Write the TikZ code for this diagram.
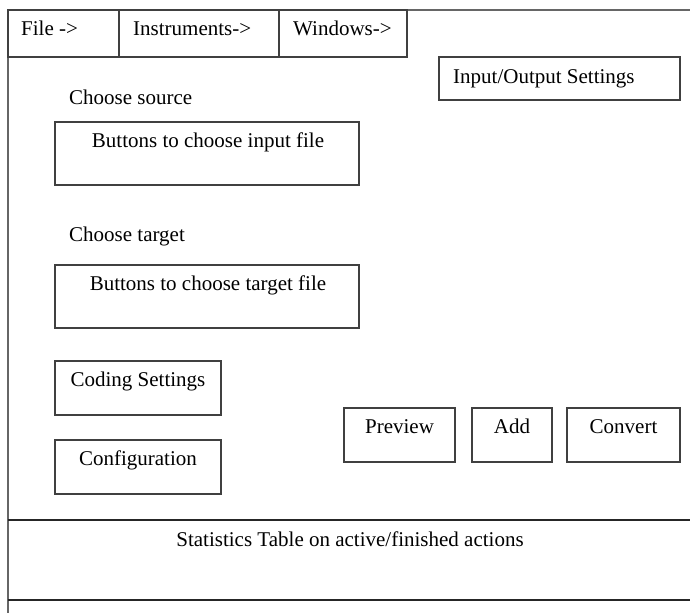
\documentclass[tikz,border=0pt]{standalone}
\usepackage{fontspec}
\setmainfont{Liberation Serif}
\begin{document}
\begin{tikzpicture}[x=1pt,y=-1pt,
  frameline/.style={draw=black!60, line width=1.8pt},
  sepline/.style={draw=black!85, line width=1.5pt},
  box/.style={draw=black!75, line width=1.2pt, rectangle, inner sep=0pt, outer sep=0pt, anchor=north west},
  txt/.style={inner sep=0pt, font=\fontsize{21}{25}\selectfont, text=black}]
\useasboundingbox (0,0) rectangle (690,613);
% outer frame
\coordinate (tr) at (690,10);
\coordinate (tl) at (8,10);
\coordinate (bl) at (8,613);
\draw[frameline] (tr) -- (tl) -- (bl);
\coordinate (s1l) at (8,520);
\coordinate (s1r) at (690,520);
\coordinate (s2l) at (8,600);
\coordinate (s2r) at (690,600);
\draw[sepline] (s1l) -- (s1r);
\draw[sepline] (s2l) -- (s2r);
% menu
\node[box, minimum width=111, minimum height=47] (mfile) at (8,10) {};
\node[box, minimum width=160, minimum height=47] (minst) at (119,10) {};
\node[box, minimum width=128, minimum height=47] (mwin) at (279,10) {};
\node[txt, anchor=base west] (tfile) at (21,35) {File ->};
\node[txt, anchor=base west] (tinst) at (133,35) {Instruments->};
\node[txt, anchor=base west] (twin) at (293,35) {Windows->};
% IO settings
\node[box, minimum width=241, minimum height=43] (io) at (439,57) {};
\node[txt, anchor=base west] (tio) at (453,83) {Input/Output Settings};
% source
\node[txt, anchor=base west] (tsrc) at (69,104) {Choose source};
\node[box, minimum width=304, minimum height=63] (src) at (55,122) {};
\node[txt, anchor=base] (tsrcb) at (208,147) {Buttons to choose input file};
% target
\node[txt, anchor=base west] (ttgt) at (69,241) {Choose target};
\node[box, minimum width=304, minimum height=63] (tgt) at (55,265) {};
\node[txt, anchor=base] (ttgtb) at (208,290) {Buttons to choose target file};
% coding / configuration
\node[box, minimum width=166, minimum height=54] (cod) at (55,361) {};
\node[txt, anchor=base] (tcod) at (138,386) {Coding Settings};
\node[box, minimum width=166, minimum height=54] (conf) at (55,440) {};
\node[txt, anchor=base] (tconf) at (138,465) {Configuration};
% action buttons
\node[box, minimum width=111, minimum height=54] (prev) at (344,408) {};
\node[txt, anchor=base] (tprev) at (399.5,433) {Preview};
\node[box, minimum width=80, minimum height=54] (add) at (472,408) {};
\node[txt, anchor=base] (tadd) at (512,433) {Add};
\node[box, minimum width=113, minimum height=54] (conv) at (567,408) {};
\node[txt, anchor=base] (tconv) at (623.5,433) {Convert};
% statistics
\node[txt, anchor=base] (tstat) at (350,546) {Statistics Table on active/finished actions};
\end{tikzpicture}
\end{document}
